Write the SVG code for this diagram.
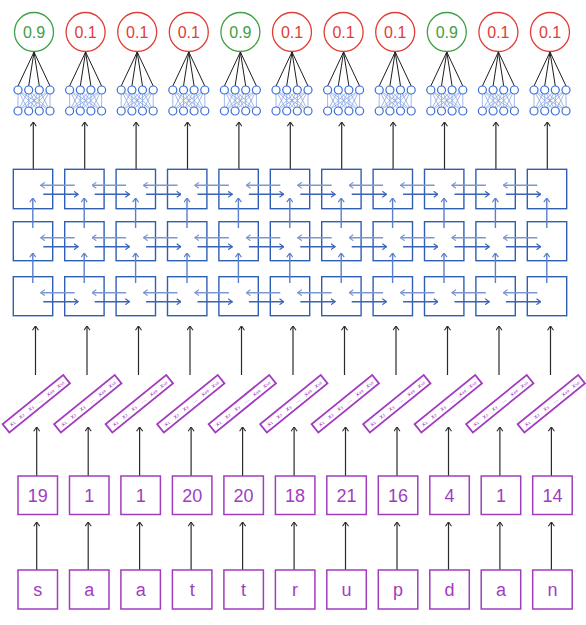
<svg xmlns="http://www.w3.org/2000/svg" xmlns:xlink="http://www.w3.org/1999/xlink" width="586" height="625" viewBox="0 0 586 625">
<style>
.bg{fill:#ffffff}
.outg{fill:none;stroke:#3fa045;stroke-width:1.3}
.outr{fill:none;stroke:#e03e36;stroke-width:1.3}
.tg{fill:#3fa045;font-family:"Liberation Sans",Arial,sans-serif;font-size:16px;text-anchor:middle}
.tr{fill:#e03e36;font-family:"Liberation Sans",Arial,sans-serif;font-size:16px;text-anchor:middle}
.cell{fill:#ffffff;stroke:#2f5fb3;stroke-width:1.4}
.pbox{fill:#ffffff;stroke:#a23cbf;stroke-width:1.5}
.ptxt{fill:#a23cbf;font-family:"Liberation Sans",Arial,sans-serif;font-size:18px;text-anchor:middle}
.bar{fill:#ffffff;stroke:#a23cbf;stroke-width:1.8}
.btxt{fill:#a23cbf;font-family:"DejaVu Sans",sans-serif;font-size:6px;text-anchor:middle}
.blk{stroke:#2a2a2a;stroke-width:1.2;fill:none;marker-end:url(#mk)}
.hl{stroke:#7d97d0;stroke-width:1.4;fill:none;marker-end:url(#ml)}
.hr{stroke:#3a63b8;stroke-width:1.4;fill:none;marker-end:url(#mb)}
.vu{stroke:#5a7fcc;stroke-width:1.4;fill:none;marker-end:url(#mv)}
.nn{fill:#ffffff;stroke:#3b6fd6;stroke-width:1.2}
.nx{stroke:#8aa6e2;stroke-width:0.8}
.fan{stroke:#1e1e1e;stroke-width:1}
</style>
<defs>
<marker id="mk" viewBox="0 0 5 7" refX="4.5" refY="3.5" markerWidth="5" markerHeight="7" markerUnits="userSpaceOnUse" orient="auto"><path d="M0.3,0.5 L4.5,3.5 L0.3,6.5" fill="none" stroke="#2a2a2a" stroke-width="1.1"/></marker>
<marker id="ml" viewBox="0 0 5 7" refX="4.5" refY="3.5" markerWidth="5" markerHeight="7" markerUnits="userSpaceOnUse" orient="auto"><path d="M0.3,0.5 L4.5,3.5 L0.3,6.5" fill="none" stroke="#7d97d0" stroke-width="1.2"/></marker>
<marker id="mb" viewBox="0 0 5 7" refX="4.5" refY="3.5" markerWidth="5" markerHeight="7" markerUnits="userSpaceOnUse" orient="auto"><path d="M0.3,0.5 L4.5,3.5 L0.3,6.5" fill="none" stroke="#3a63b8" stroke-width="1.2"/></marker>
<marker id="mv" viewBox="0 0 5 7" refX="4.5" refY="3.5" markerWidth="5" markerHeight="7" markerUnits="userSpaceOnUse" orient="auto"><path d="M0.3,0.5 L4.5,3.5 L0.3,6.5" fill="none" stroke="#5a7fcc" stroke-width="1.2"/></marker>
<g id="mlp">
<g class="fan"><line x1="0" y1="52" x2="-16" y2="86"/><line x1="0" y1="52" x2="-5.3" y2="86"/><line x1="0" y1="52" x2="5.3" y2="86"/><line x1="0" y1="52" x2="16" y2="86"/></g>
<g class="nx">
<line x1="-16" y1="90" x2="-16" y2="111"/><line x1="-16" y1="90" x2="-5.3" y2="111"/><line x1="-16" y1="90" x2="5.3" y2="111"/><line x1="-16" y1="90" x2="16" y2="111"/>
<line x1="-5.3" y1="90" x2="-16" y2="111"/><line x1="-5.3" y1="90" x2="-5.3" y2="111"/><line x1="-5.3" y1="90" x2="5.3" y2="111"/><line x1="-5.3" y1="90" x2="16" y2="111"/>
<line x1="5.3" y1="90" x2="-16" y2="111"/><line x1="5.3" y1="90" x2="-5.3" y2="111"/><line x1="5.3" y1="90" x2="5.3" y2="111"/><line x1="5.3" y1="90" x2="16" y2="111"/>
<line x1="16" y1="90" x2="-16" y2="111"/><line x1="16" y1="90" x2="-5.3" y2="111"/><line x1="16" y1="90" x2="5.3" y2="111"/><line x1="16" y1="90" x2="16" y2="111"/>
</g>
<circle class="nn" cx="-16" cy="90" r="4"/><circle class="nn" cx="-5.3" cy="90" r="4"/><circle class="nn" cx="5.3" cy="90" r="4"/><circle class="nn" cx="16" cy="90" r="4"/>
<circle class="nn" cx="-16" cy="111" r="4"/><circle class="nn" cx="-5.3" cy="111" r="4"/><circle class="nn" cx="5.3" cy="111" r="4"/><circle class="nn" cx="16" cy="111" r="4"/>
</g>
</defs>
<rect class="bg" x="0" y="0" width="586" height="625"/>

<g id="connectors">
<line class="blk" x1="33.3" y1="169.3" x2="33.3" y2="122"/>
<line class="blk" x1="84.7" y1="169.3" x2="84.7" y2="122"/>
<line class="blk" x1="136.1" y1="169.3" x2="136.1" y2="122"/>
<line class="blk" x1="187.5" y1="169.3" x2="187.5" y2="122"/>
<line class="blk" x1="238.9" y1="169.3" x2="238.9" y2="122"/>
<line class="blk" x1="290.3" y1="169.3" x2="290.3" y2="122"/>
<line class="blk" x1="341.7" y1="169.3" x2="341.7" y2="122"/>
<line class="blk" x1="393.1" y1="169.3" x2="393.1" y2="122"/>
<line class="blk" x1="444.5" y1="169.3" x2="444.5" y2="122"/>
<line class="blk" x1="495.9" y1="169.3" x2="495.9" y2="122"/>
<line class="blk" x1="547.3" y1="169.3" x2="547.3" y2="122"/>
<line class="blk" x1="35.5" y1="375" x2="35.5" y2="326"/>
<line class="blk" x1="87" y1="375" x2="87" y2="326"/>
<line class="blk" x1="138.5" y1="375" x2="138.5" y2="326"/>
<line class="blk" x1="190" y1="375" x2="190" y2="326"/>
<line class="blk" x1="241.5" y1="375" x2="241.5" y2="326"/>
<line class="blk" x1="293" y1="375" x2="293" y2="326"/>
<line class="blk" x1="344.5" y1="375" x2="344.5" y2="326"/>
<line class="blk" x1="396" y1="375" x2="396" y2="326"/>
<line class="blk" x1="447.5" y1="375" x2="447.5" y2="326"/>
<line class="blk" x1="499" y1="375" x2="499" y2="326"/>
<line class="blk" x1="550.5" y1="375" x2="550.5" y2="326"/>
<line class="blk" x1="36.7" y1="476" x2="36.7" y2="427"/>
<line class="blk" x1="88.2" y1="476" x2="88.2" y2="427"/>
<line class="blk" x1="139.6" y1="476" x2="139.6" y2="427"/>
<line class="blk" x1="191.1" y1="476" x2="191.1" y2="427"/>
<line class="blk" x1="242.6" y1="476" x2="242.6" y2="427"/>
<line class="blk" x1="294.1" y1="476" x2="294.1" y2="427"/>
<line class="blk" x1="345.5" y1="476" x2="345.5" y2="427"/>
<line class="blk" x1="397" y1="476" x2="397" y2="427"/>
<line class="blk" x1="448.5" y1="476" x2="448.5" y2="427"/>
<line class="blk" x1="499.9" y1="476" x2="499.9" y2="427"/>
<line class="blk" x1="551.4" y1="476" x2="551.4" y2="427"/>
<line class="blk" x1="36.7" y1="570" x2="36.7" y2="522"/>
<line class="blk" x1="88.2" y1="570" x2="88.2" y2="522"/>
<line class="blk" x1="139.6" y1="570" x2="139.6" y2="522"/>
<line class="blk" x1="191.1" y1="570" x2="191.1" y2="522"/>
<line class="blk" x1="242.6" y1="570" x2="242.6" y2="522"/>
<line class="blk" x1="294.1" y1="570" x2="294.1" y2="522"/>
<line class="blk" x1="345.5" y1="570" x2="345.5" y2="522"/>
<line class="blk" x1="397" y1="570" x2="397" y2="522"/>
<line class="blk" x1="448.5" y1="570" x2="448.5" y2="522"/>
<line class="blk" x1="499.9" y1="570" x2="499.9" y2="522"/>
<line class="blk" x1="551.4" y1="570" x2="551.4" y2="522"/>
</g>

<g id="outputs">
<g id="out-1"><circle class="outg" cx="34" cy="32" r="19.5"/><text class="tg" x="34" y="37.8">0.9</text></g>
<g id="out-2"><circle class="outr" cx="85.6" cy="32" r="19.5"/><text class="tr" x="85.6" y="37.8">0.1</text></g>
<g id="out-3"><circle class="outr" cx="137.2" cy="32" r="19.5"/><text class="tr" x="137.2" y="37.8">0.1</text></g>
<g id="out-4"><circle class="outr" cx="188.8" cy="32" r="19.5"/><text class="tr" x="188.8" y="37.8">0.1</text></g>
<g id="out-5"><circle class="outg" cx="240.4" cy="32" r="19.5"/><text class="tg" x="240.4" y="37.8">0.9</text></g>
<g id="out-6"><circle class="outr" cx="292" cy="32" r="19.5"/><text class="tr" x="292" y="37.8">0.1</text></g>
<g id="out-7"><circle class="outr" cx="343.6" cy="32" r="19.5"/><text class="tr" x="343.6" y="37.8">0.1</text></g>
<g id="out-8"><circle class="outr" cx="395.2" cy="32" r="19.5"/><text class="tr" x="395.2" y="37.8">0.1</text></g>
<g id="out-9"><circle class="outg" cx="446.8" cy="32" r="19.5"/><text class="tg" x="446.8" y="37.8">0.9</text></g>
<g id="out-10"><circle class="outr" cx="498.4" cy="32" r="19.5"/><text class="tr" x="498.4" y="37.8">0.1</text></g>
<g id="out-11"><circle class="outr" cx="550" cy="32" r="19.5"/><text class="tr" x="550" y="37.8">0.1</text></g>
</g>

<g id="mlps">
<g id="mlp-1"><use xlink:href="#mlp" href="#mlp" transform="translate(34,0)"/></g>
<g id="mlp-2"><use xlink:href="#mlp" href="#mlp" transform="translate(85.6,0)"/></g>
<g id="mlp-3"><use xlink:href="#mlp" href="#mlp" transform="translate(137.2,0)"/></g>
<g id="mlp-4"><use xlink:href="#mlp" href="#mlp" transform="translate(188.8,0)"/></g>
<g id="mlp-5"><use xlink:href="#mlp" href="#mlp" transform="translate(240.4,0)"/></g>
<g id="mlp-6"><use xlink:href="#mlp" href="#mlp" transform="translate(292,0)"/></g>
<g id="mlp-7"><use xlink:href="#mlp" href="#mlp" transform="translate(343.6,0)"/></g>
<g id="mlp-8"><use xlink:href="#mlp" href="#mlp" transform="translate(395.2,0)"/></g>
<g id="mlp-9"><use xlink:href="#mlp" href="#mlp" transform="translate(446.8,0)"/></g>
<g id="mlp-10"><use xlink:href="#mlp" href="#mlp" transform="translate(498.4,0)"/></g>
<g id="mlp-11"><use xlink:href="#mlp" href="#mlp" transform="translate(550,0)"/></g>
</g>

<g id="lstm">
<g id="lstm-r1">
<rect class="cell" x="13.3" y="169.3" width="39.4" height="39.4"/><rect class="cell" x="64.7" y="169.3" width="39.4" height="39.4"/><rect class="cell" x="116.1" y="169.3" width="39.4" height="39.4"/><rect class="cell" x="167.5" y="169.3" width="39.4" height="39.4"/><rect class="cell" x="218.9" y="169.3" width="39.4" height="39.4"/><rect class="cell" x="270.3" y="169.3" width="39.4" height="39.4"/><rect class="cell" x="321.7" y="169.3" width="39.4" height="39.4"/><rect class="cell" x="373.1" y="169.3" width="39.4" height="39.4"/><rect class="cell" x="424.5" y="169.3" width="39.4" height="39.4"/><rect class="cell" x="475.9" y="169.3" width="39.4" height="39.4"/><rect class="cell" x="527.3" y="169.3" width="39.4" height="39.4"/>
</g>
<g id="lstm-r2">
<rect class="cell" x="13.3" y="221.7" width="39.4" height="39"/><rect class="cell" x="64.7" y="221.7" width="39.4" height="39"/><rect class="cell" x="116.1" y="221.7" width="39.4" height="39"/><rect class="cell" x="167.5" y="221.7" width="39.4" height="39"/><rect class="cell" x="218.9" y="221.7" width="39.4" height="39"/><rect class="cell" x="270.3" y="221.7" width="39.4" height="39"/><rect class="cell" x="321.7" y="221.7" width="39.4" height="39"/><rect class="cell" x="373.1" y="221.7" width="39.4" height="39"/><rect class="cell" x="424.5" y="221.7" width="39.4" height="39"/><rect class="cell" x="475.9" y="221.7" width="39.4" height="39"/><rect class="cell" x="527.3" y="221.7" width="39.4" height="39"/>
</g>
<g id="lstm-r3">
<rect class="cell" x="13.3" y="276.7" width="39.4" height="39"/><rect class="cell" x="64.7" y="276.7" width="39.4" height="39"/><rect class="cell" x="116.1" y="276.7" width="39.4" height="39"/><rect class="cell" x="167.5" y="276.7" width="39.4" height="39"/><rect class="cell" x="218.9" y="276.7" width="39.4" height="39"/><rect class="cell" x="270.3" y="276.7" width="39.4" height="39"/><rect class="cell" x="321.7" y="276.7" width="39.4" height="39"/><rect class="cell" x="373.1" y="276.7" width="39.4" height="39"/><rect class="cell" x="424.5" y="276.7" width="39.4" height="39"/><rect class="cell" x="475.9" y="276.7" width="39.4" height="39"/><rect class="cell" x="527.3" y="276.7" width="39.4" height="39"/>
</g>
<g id="lstm-arrows">
<line class="hl" x1="74.7" y1="185.3" x2="40.7" y2="185.3"/><line class="hr" x1="43.3" y1="194.3" x2="78.1" y2="194.3"/>
<line class="hl" x1="126.1" y1="185.3" x2="92.1" y2="185.3"/><line class="hr" x1="94.7" y1="194.3" x2="129.5" y2="194.3"/>
<line class="hl" x1="177.5" y1="185.3" x2="143.5" y2="185.3"/><line class="hr" x1="146.1" y1="194.3" x2="180.9" y2="194.3"/>
<line class="hl" x1="228.9" y1="185.3" x2="194.9" y2="185.3"/><line class="hr" x1="197.5" y1="194.3" x2="232.3" y2="194.3"/>
<line class="hl" x1="280.3" y1="185.3" x2="246.3" y2="185.3"/><line class="hr" x1="248.9" y1="194.3" x2="283.7" y2="194.3"/>
<line class="hl" x1="331.7" y1="185.3" x2="297.7" y2="185.3"/><line class="hr" x1="300.3" y1="194.3" x2="335.1" y2="194.3"/>
<line class="hl" x1="383.1" y1="185.3" x2="349.1" y2="185.3"/><line class="hr" x1="351.7" y1="194.3" x2="386.5" y2="194.3"/>
<line class="hl" x1="434.5" y1="185.3" x2="400.5" y2="185.3"/><line class="hr" x1="403.1" y1="194.3" x2="437.9" y2="194.3"/>
<line class="hl" x1="485.9" y1="185.3" x2="451.9" y2="185.3"/><line class="hr" x1="454.5" y1="194.3" x2="489.3" y2="194.3"/>
<line class="hl" x1="537.3" y1="185.3" x2="503.3" y2="185.3"/><line class="hr" x1="505.9" y1="194.3" x2="540.7" y2="194.3"/>
<line class="hl" x1="74.7" y1="237.7" x2="40.7" y2="237.7"/><line class="hr" x1="43.3" y1="246.7" x2="78.1" y2="246.7"/>
<line class="hl" x1="126.1" y1="237.7" x2="92.1" y2="237.7"/><line class="hr" x1="94.7" y1="246.7" x2="129.5" y2="246.7"/>
<line class="hl" x1="177.5" y1="237.7" x2="143.5" y2="237.7"/><line class="hr" x1="146.1" y1="246.7" x2="180.9" y2="246.7"/>
<line class="hl" x1="228.9" y1="237.7" x2="194.9" y2="237.7"/><line class="hr" x1="197.5" y1="246.7" x2="232.3" y2="246.7"/>
<line class="hl" x1="280.3" y1="237.7" x2="246.3" y2="237.7"/><line class="hr" x1="248.9" y1="246.7" x2="283.7" y2="246.7"/>
<line class="hl" x1="331.7" y1="237.7" x2="297.7" y2="237.7"/><line class="hr" x1="300.3" y1="246.7" x2="335.1" y2="246.7"/>
<line class="hl" x1="383.1" y1="237.7" x2="349.1" y2="237.7"/><line class="hr" x1="351.7" y1="246.7" x2="386.5" y2="246.7"/>
<line class="hl" x1="434.5" y1="237.7" x2="400.5" y2="237.7"/><line class="hr" x1="403.1" y1="246.7" x2="437.9" y2="246.7"/>
<line class="hl" x1="485.9" y1="237.7" x2="451.9" y2="237.7"/><line class="hr" x1="454.5" y1="246.7" x2="489.3" y2="246.7"/>
<line class="hl" x1="537.3" y1="237.7" x2="503.3" y2="237.7"/><line class="hr" x1="505.9" y1="246.7" x2="540.7" y2="246.7"/>
<line class="hl" x1="74.7" y1="292.7" x2="40.7" y2="292.7"/><line class="hr" x1="43.3" y1="301.7" x2="78.1" y2="301.7"/>
<line class="hl" x1="126.1" y1="292.7" x2="92.1" y2="292.7"/><line class="hr" x1="94.7" y1="301.7" x2="129.5" y2="301.7"/>
<line class="hl" x1="177.5" y1="292.7" x2="143.5" y2="292.7"/><line class="hr" x1="146.1" y1="301.7" x2="180.9" y2="301.7"/>
<line class="hl" x1="228.9" y1="292.7" x2="194.9" y2="292.7"/><line class="hr" x1="197.5" y1="301.7" x2="232.3" y2="301.7"/>
<line class="hl" x1="280.3" y1="292.7" x2="246.3" y2="292.7"/><line class="hr" x1="248.9" y1="301.7" x2="283.7" y2="301.7"/>
<line class="hl" x1="331.7" y1="292.7" x2="297.7" y2="292.7"/><line class="hr" x1="300.3" y1="301.7" x2="335.1" y2="301.7"/>
<line class="hl" x1="383.1" y1="292.7" x2="349.1" y2="292.7"/><line class="hr" x1="351.7" y1="301.7" x2="386.5" y2="301.7"/>
<line class="hl" x1="434.5" y1="292.7" x2="400.5" y2="292.7"/><line class="hr" x1="403.1" y1="301.7" x2="437.9" y2="301.7"/>
<line class="hl" x1="485.9" y1="292.7" x2="451.9" y2="292.7"/><line class="hr" x1="454.5" y1="301.7" x2="489.3" y2="301.7"/>
<line class="hl" x1="537.3" y1="292.7" x2="503.3" y2="292.7"/><line class="hr" x1="505.9" y1="301.7" x2="540.7" y2="301.7"/>
<line class="vu" x1="32.8" y1="228" x2="32.8" y2="198"/><line class="vu" x1="32.8" y1="283" x2="32.8" y2="253"/>
<line class="vu" x1="84.2" y1="228" x2="84.2" y2="198"/><line class="vu" x1="84.2" y1="283" x2="84.2" y2="253"/>
<line class="vu" x1="135.6" y1="228" x2="135.6" y2="198"/><line class="vu" x1="135.6" y1="283" x2="135.6" y2="253"/>
<line class="vu" x1="187" y1="228" x2="187" y2="198"/><line class="vu" x1="187" y1="283" x2="187" y2="253"/>
<line class="vu" x1="238.4" y1="228" x2="238.4" y2="198"/><line class="vu" x1="238.4" y1="283" x2="238.4" y2="253"/>
<line class="vu" x1="289.8" y1="228" x2="289.8" y2="198"/><line class="vu" x1="289.8" y1="283" x2="289.8" y2="253"/>
<line class="vu" x1="341.2" y1="228" x2="341.2" y2="198"/><line class="vu" x1="341.2" y1="283" x2="341.2" y2="253"/>
<line class="vu" x1="392.6" y1="228" x2="392.6" y2="198"/><line class="vu" x1="392.6" y1="283" x2="392.6" y2="253"/>
<line class="vu" x1="444" y1="228" x2="444" y2="198"/><line class="vu" x1="444" y1="283" x2="444" y2="253"/>
<line class="vu" x1="495.4" y1="228" x2="495.4" y2="198"/><line class="vu" x1="495.4" y1="283" x2="495.4" y2="253"/>
<line class="vu" x1="546.8" y1="228" x2="546.8" y2="198"/><line class="vu" x1="546.8" y1="283" x2="546.8" y2="253"/>
</g>
</g>

<g id="embeddings">
<g id="emb-1" transform="translate(36.3,403.7) rotate(-39)"><rect class="bar" x="-39" y="-5.35" width="78" height="10.7"/><text class="btxt" x="-31" y="2.1">x₁</text><text class="btxt" x="-19" y="2.1">x₂</text><text class="btxt" x="-7" y="2.1">x₃</text><text class="btxt" x="5" y="1.5">...</text><text class="btxt" x="18" y="2.1">x₄₉</text><text class="btxt" x="31" y="2.1">x₅₀</text></g>
<g id="emb-2" transform="translate(87.8,403.7) rotate(-39)"><rect class="bar" x="-39" y="-5.35" width="78" height="10.7"/><text class="btxt" x="-31" y="2.1">x₁</text><text class="btxt" x="-19" y="2.1">x₂</text><text class="btxt" x="-7" y="2.1">x₃</text><text class="btxt" x="5" y="1.5">...</text><text class="btxt" x="18" y="2.1">x₄₉</text><text class="btxt" x="31" y="2.1">x₅₀</text></g>
<g id="emb-3" transform="translate(139.3,403.7) rotate(-39)"><rect class="bar" x="-39" y="-5.35" width="78" height="10.7"/><text class="btxt" x="-31" y="2.1">x₁</text><text class="btxt" x="-19" y="2.1">x₂</text><text class="btxt" x="-7" y="2.1">x₃</text><text class="btxt" x="5" y="1.5">...</text><text class="btxt" x="18" y="2.1">x₄₉</text><text class="btxt" x="31" y="2.1">x₅₀</text></g>
<g id="emb-4" transform="translate(190.8,403.7) rotate(-39)"><rect class="bar" x="-39" y="-5.35" width="78" height="10.7"/><text class="btxt" x="-31" y="2.1">x₁</text><text class="btxt" x="-19" y="2.1">x₂</text><text class="btxt" x="-7" y="2.1">x₃</text><text class="btxt" x="5" y="1.5">...</text><text class="btxt" x="18" y="2.1">x₄₉</text><text class="btxt" x="31" y="2.1">x₅₀</text></g>
<g id="emb-5" transform="translate(242.3,403.7) rotate(-39)"><rect class="bar" x="-39" y="-5.35" width="78" height="10.7"/><text class="btxt" x="-31" y="2.1">x₁</text><text class="btxt" x="-19" y="2.1">x₂</text><text class="btxt" x="-7" y="2.1">x₃</text><text class="btxt" x="5" y="1.5">...</text><text class="btxt" x="18" y="2.1">x₄₉</text><text class="btxt" x="31" y="2.1">x₅₀</text></g>
<g id="emb-6" transform="translate(293.8,403.7) rotate(-39)"><rect class="bar" x="-39" y="-5.35" width="78" height="10.7"/><text class="btxt" x="-31" y="2.1">x₁</text><text class="btxt" x="-19" y="2.1">x₂</text><text class="btxt" x="-7" y="2.1">x₃</text><text class="btxt" x="5" y="1.5">...</text><text class="btxt" x="18" y="2.1">x₄₉</text><text class="btxt" x="31" y="2.1">x₅₀</text></g>
<g id="emb-7" transform="translate(345.3,403.7) rotate(-39)"><rect class="bar" x="-39" y="-5.35" width="78" height="10.7"/><text class="btxt" x="-31" y="2.1">x₁</text><text class="btxt" x="-19" y="2.1">x₂</text><text class="btxt" x="-7" y="2.1">x₃</text><text class="btxt" x="5" y="1.5">...</text><text class="btxt" x="18" y="2.1">x₄₉</text><text class="btxt" x="31" y="2.1">x₅₀</text></g>
<g id="emb-8" transform="translate(396.8,403.7) rotate(-39)"><rect class="bar" x="-39" y="-5.35" width="78" height="10.7"/><text class="btxt" x="-31" y="2.1">x₁</text><text class="btxt" x="-19" y="2.1">x₂</text><text class="btxt" x="-7" y="2.1">x₃</text><text class="btxt" x="5" y="1.5">...</text><text class="btxt" x="18" y="2.1">x₄₉</text><text class="btxt" x="31" y="2.1">x₅₀</text></g>
<g id="emb-9" transform="translate(448.3,403.7) rotate(-39)"><rect class="bar" x="-39" y="-5.35" width="78" height="10.7"/><text class="btxt" x="-31" y="2.1">x₁</text><text class="btxt" x="-19" y="2.1">x₂</text><text class="btxt" x="-7" y="2.1">x₃</text><text class="btxt" x="5" y="1.5">...</text><text class="btxt" x="18" y="2.1">x₄₉</text><text class="btxt" x="31" y="2.1">x₅₀</text></g>
<g id="emb-10" transform="translate(499.8,403.7) rotate(-39)"><rect class="bar" x="-39" y="-5.35" width="78" height="10.7"/><text class="btxt" x="-31" y="2.1">x₁</text><text class="btxt" x="-19" y="2.1">x₂</text><text class="btxt" x="-7" y="2.1">x₃</text><text class="btxt" x="5" y="1.5">...</text><text class="btxt" x="18" y="2.1">x₄₉</text><text class="btxt" x="31" y="2.1">x₅₀</text></g>
<g id="emb-11" transform="translate(551.3,403.7) rotate(-39)"><rect class="bar" x="-39" y="-5.35" width="78" height="10.7"/><text class="btxt" x="-31" y="2.1">x₁</text><text class="btxt" x="-19" y="2.1">x₂</text><text class="btxt" x="-7" y="2.1">x₃</text><text class="btxt" x="5" y="1.5">...</text><text class="btxt" x="18" y="2.1">x₄₉</text><text class="btxt" x="31" y="2.1">x₅₀</text></g>
</g>

<g id="indices">
<g id="idx-1"><rect class="pbox" x="18" y="476" width="39.5" height="38.5"/><text class="ptxt" x="37.8" y="501.5">19</text></g>
<g id="idx-2"><rect class="pbox" x="69.5" y="476" width="39.5" height="38.5"/><text class="ptxt" x="89.2" y="501.5">1</text></g>
<g id="idx-3"><rect class="pbox" x="120.9" y="476" width="39.5" height="38.5"/><text class="ptxt" x="140.7" y="501.5">1</text></g>
<g id="idx-4"><rect class="pbox" x="172.4" y="476" width="39.5" height="38.5"/><text class="ptxt" x="192.2" y="501.5">20</text></g>
<g id="idx-5"><rect class="pbox" x="223.9" y="476" width="39.5" height="38.5"/><text class="ptxt" x="243.6" y="501.5">20</text></g>
<g id="idx-6"><rect class="pbox" x="275.4" y="476" width="39.5" height="38.5"/><text class="ptxt" x="295.1" y="501.5">18</text></g>
<g id="idx-7"><rect class="pbox" x="326.8" y="476" width="39.5" height="38.5"/><text class="ptxt" x="346.6" y="501.5">21</text></g>
<g id="idx-8"><rect class="pbox" x="378.3" y="476" width="39.5" height="38.5"/><text class="ptxt" x="398" y="501.5">16</text></g>
<g id="idx-9"><rect class="pbox" x="429.8" y="476" width="39.5" height="38.5"/><text class="ptxt" x="449.5" y="501.5">4</text></g>
<g id="idx-10"><rect class="pbox" x="481.2" y="476" width="39.5" height="38.5"/><text class="ptxt" x="501" y="501.5">1</text></g>
<g id="idx-11"><rect class="pbox" x="532.7" y="476" width="39.5" height="38.5"/><text class="ptxt" x="552.5" y="501.5">14</text></g>
</g>

<g id="letters">
<g id="chr-1"><rect class="pbox" x="18" y="570" width="39.5" height="39"/><text class="ptxt" x="37.8" y="595.5">s</text></g>
<g id="chr-2"><rect class="pbox" x="69.5" y="570" width="39.5" height="39"/><text class="ptxt" x="89.2" y="595.5">a</text></g>
<g id="chr-3"><rect class="pbox" x="120.9" y="570" width="39.5" height="39"/><text class="ptxt" x="140.7" y="595.5">a</text></g>
<g id="chr-4"><rect class="pbox" x="172.4" y="570" width="39.5" height="39"/><text class="ptxt" x="192.2" y="595.5">t</text></g>
<g id="chr-5"><rect class="pbox" x="223.9" y="570" width="39.5" height="39"/><text class="ptxt" x="243.6" y="595.5">t</text></g>
<g id="chr-6"><rect class="pbox" x="275.4" y="570" width="39.5" height="39"/><text class="ptxt" x="295.1" y="595.5">r</text></g>
<g id="chr-7"><rect class="pbox" x="326.8" y="570" width="39.5" height="39"/><text class="ptxt" x="346.6" y="595.5">u</text></g>
<g id="chr-8"><rect class="pbox" x="378.3" y="570" width="39.5" height="39"/><text class="ptxt" x="398" y="595.5">p</text></g>
<g id="chr-9"><rect class="pbox" x="429.8" y="570" width="39.5" height="39"/><text class="ptxt" x="449.5" y="595.5">d</text></g>
<g id="chr-10"><rect class="pbox" x="481.2" y="570" width="39.5" height="39"/><text class="ptxt" x="501" y="595.5">a</text></g>
<g id="chr-11"><rect class="pbox" x="532.7" y="570" width="39.5" height="39"/><text class="ptxt" x="552.5" y="595.5">n</text></g>
</g>
</svg>
